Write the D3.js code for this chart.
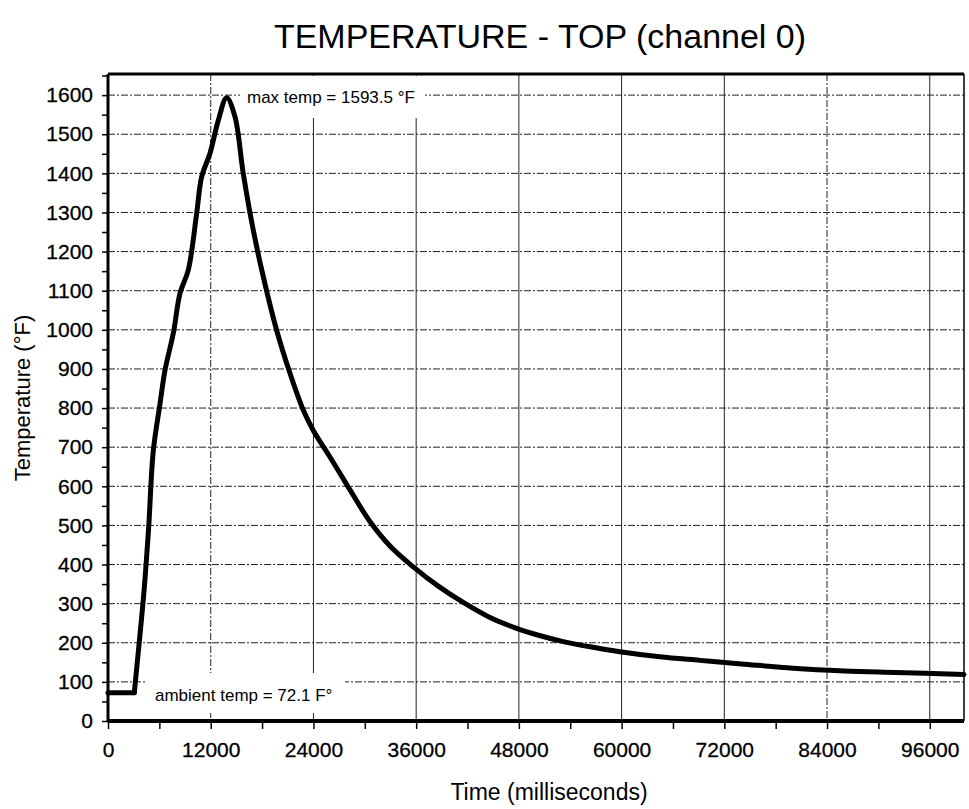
<!DOCTYPE html>
<html>
<head>
<meta charset="utf-8">
<title>Temperature - Top</title>
<script src="https://d3js.org/d3.v7.min.js"></script>
<style>
  body { margin: 0; background: #fff; font-family: Arial, "Liberation Sans", sans-serif; }
  .tick text { font-family: Arial, "Liberation Sans", sans-serif; }
</style>
</head>
<body>
<svg id="chart" width="969" height="809"></svg>
<script>
// time in ms, temperature in °F
const timeMs = [0, 3070, 3600, 4200, 4750, 5290, 6070, 6660, 7630, 8410, 9380, 10360, 10940, 11910, 12890, 13860,
  14830, 15800, 16970, 18140, 19700, 21260, 22810, 24000, 25930, 27880, 30600, 33000, 35660, 38500, 41500,
  44500, 47730, 50500, 53180, 56500, 59800, 64470, 69140, 74000, 80030, 86000, 92000, 100000];
const tempF = [72.1, 72.1, 190, 330, 495, 690, 810, 897, 991, 1093, 1153, 1298, 1391, 1451, 1536, 1593.5,
  1545, 1400, 1255, 1136, 999, 889, 795, 742, 675, 605, 510, 446, 394, 346, 303,
  266, 237, 218, 203, 189, 177, 164, 155, 146, 135, 128, 124, 119];
const xTicks = [0, 12000, 24000, 36000, 48000, 60000, 72000, 84000, 96000];
const yTicks = d3.range(0, 1601, 100);
const dashedX = [12000, 84000];
const maxLabel = "max temp = 1593.5 °F";
const ambientLabel = "ambient temp = 72.1 F°";

const svg = d3.select("#chart");
const m = { left: 108, right: 964, top: 74, bottom: 721 };

const x = d3.scaleLinear().domain([0, 100000]).range([m.left, m.right]);
const y = d3.scaleLinear().domain([0, 1654]).range([m.bottom, m.top]);

// title
svg.append("text").attr("x", 540).attr("y", 48).attr("text-anchor", "middle")
  .style("font-size", "34px").text("TEMPERATURE - TOP (channel 0)");

// grid
const grid = svg.append("g");
grid.selectAll("line.h").data(yTicks.filter(d => d > 0)).enter().append("line")
  .attr("x1", m.left).attr("x2", m.right).attr("y1", d => y(d)).attr("y2", d => y(d))
  .attr("stroke", "#222").attr("stroke-width", 1).attr("stroke-dasharray", "7,2,2,2");
grid.selectAll("line.v").data(xTicks.filter(d => d > 0)).enter().append("line")
  .attr("y1", m.top).attr("y2", m.bottom).attr("x1", d => x(d)).attr("x2", d => x(d))
  .attr("stroke", "#222").attr("stroke-width", 1)
  .attr("stroke-dasharray", d => dashedX.includes(d) ? "7,2,2,2" : null);

// annotation boxes hide the grid behind the text
svg.append("rect").attr("x", 240).attr("y", 76).attr("width", 185).attr("height", 42).attr("fill", "#fff");
svg.append("rect").attr("x", 145).attr("y", 673).attr("width", 200).attr("height", 40).attr("fill", "#fff");

// axes
const xAxis = d3.axisBottom(x).tickValues(d3.range(0, 100001, 6000)).tickSize(8)
  .tickFormat(d => xTicks.includes(d) ? d : "");
svg.append("g").attr("transform", `translate(0,${m.bottom})`).call(xAxis)
  .call(g => g.select(".domain").remove())
  .call(g => g.selectAll(".tick line").attr("stroke", "#000").attr("stroke-width", 1.5))
  .call(g => g.selectAll(".tick text").attr("y", 36).attr("dy", 0).style("font-size", "21px")
    .attr("fill", "#000").attr("stroke", "#000").attr("stroke-width", 0.3));

const yAxis = d3.axisLeft(y).tickValues(d3.range(0, 1651, 50)).tickSize(6)
  .tickFormat(d => d % 100 === 0 ? d : "");
svg.append("g").attr("transform", `translate(${m.left},0)`).call(yAxis)
  .call(g => g.select(".domain").remove())
  .call(g => g.selectAll(".tick line").attr("stroke", "#000").attr("stroke-width", 1.5))
  .call(g => g.selectAll(".tick text").attr("x", -15).style("font-size", "21px")
    .attr("fill", "#000").attr("stroke", "#000").attr("stroke-width", 0.3));

// frame
svg.append("line").attr("x1", m.left).attr("x2", m.right).attr("y1", m.top).attr("y2", m.top)
  .attr("stroke", "#000").attr("stroke-width", 3);
svg.append("line").attr("x1", m.left).attr("x2", m.left).attr("y1", m.top).attr("y2", m.bottom)
  .attr("stroke", "#000").attr("stroke-width", 3);
svg.append("line").attr("x1", m.right).attr("x2", m.right).attr("y1", m.top).attr("y2", m.bottom)
  .attr("stroke", "#000").attr("stroke-width", 1.5);
svg.append("line").attr("x1", m.left).attr("x2", m.right).attr("y1", m.bottom).attr("y2", m.bottom)
  .attr("stroke", "#000").attr("stroke-width", 4);

// curve: flat ambient part straight, the rest smoothed
const pts = timeMs.map((t, i) => [t, tempF[i]]);
const lineFlat = d3.line().x(d => x(d[0])).y(d => y(d[1]));
const lineSmooth = d3.line().x(d => x(d[0])).y(d => y(d[1])).curve(d3.curveCatmullRom.alpha(0.5));
svg.append("path").datum(pts.slice(0, 2)).attr("d", lineFlat)
  .attr("fill", "none").attr("stroke", "#000").attr("stroke-width", 5).attr("stroke-linecap", "round");
svg.append("path").datum(pts.slice(1)).attr("d", lineSmooth)
  .attr("fill", "none").attr("stroke", "#000").attr("stroke-width", 5).attr("stroke-linejoin", "round")
  .attr("stroke-linecap", "round");

// annotations
svg.append("text").attr("x", 247).attr("y", 103).style("font-size", "17px").text(maxLabel);
svg.append("text").attr("x", 155).attr("y", 701).style("font-size", "17px").text(ambientLabel);

// axis titles
svg.append("text").attr("x", 549).attr("y", 800).attr("text-anchor", "middle")
  .style("font-size", "23px").text("Time (milliseconds)");
svg.append("text").attr("transform", "translate(30,398) rotate(-90)").attr("text-anchor", "middle")
  .style("font-size", "22px").text("Temperature (°F)");
</script>
</body>
</html>
